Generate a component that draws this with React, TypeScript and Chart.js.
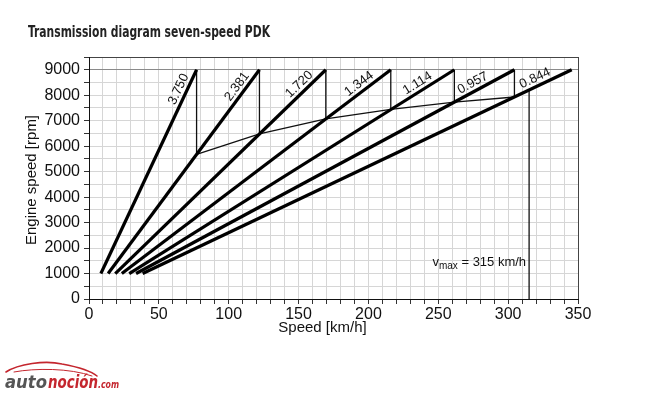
import React, { useEffect, useRef } from "react";
import { Chart, registerables } from "chart.js";

Chart.register(...registerables);

// ---- data ----
const gearRatios = ["3.750", "2.381", "1.720", "1.344", "1.114", "0.957", "0.844"];
const gearStartSpeeds = [8.5, 13.7, 18.8, 23.5, 28.8, 33.7, 38.4]; // km/h at 1000 rpm
const gearEndSpeeds = [77, 122, 169.5, 216, 261.5, 304.5, 345.5]; // km/h at 9000 rpm
const gearStartRpm = 1000;
const gearEndRpm = 9000;
const shiftSpeeds = [77, 122, 169.5, 216, 261.5, 304.5];
const shiftRpms = [5680, 6480, 7070, 7440, 7730, 7930];
const vmaxSpeed = 315;
const vmaxRpm = 8200;
const vmaxLabelRpm = 1300;
const gearLabelRpms = [8100, 8150, 8200, 8200, 8200, 8200, 8380];
const xTickLabels = [0, 50, 100, 150, 200, 250, 300, 350];
const yTickLabels = [0, 1000, 2000, 3000, 4000, 5000, 6000, 7000, 8000, 9000];

const FONT = "'Liberation Sans', Arial, Helvetica, sans-serif";

function fitText(ctx: CanvasRenderingContext2D, text: string, x: number, y: number, width: number, font: string, color: string) {
  ctx.save();
  ctx.font = font;
  const w = ctx.measureText(text).width;
  ctx.translate(x, y);
  ctx.scale(width / w, 1);
  ctx.fillStyle = color;
  ctx.textAlign = "left";
  ctx.textBaseline = "alphabetic";
  ctx.fillText(text, 0, 0);
  ctx.restore();
}

const decorPlugin = {
  id: "decor",
  afterDatasetsDraw(chart: any) {
    const ctx: CanvasRenderingContext2D = chart.ctx;
    const xs = chart.scales.x;
    const ys = chart.scales.y;
    // gear ratio labels along lines
    gearRatios.forEach((label, i) => {
      const x0 = xs.getPixelForValue(gearStartSpeeds[i]);
      const y0 = ys.getPixelForValue(gearStartRpm);
      const x1 = xs.getPixelForValue(gearEndSpeeds[i]);
      const y1 = ys.getPixelForValue(gearEndRpm);
      const ang = Math.atan2(y0 - y1, x1 - x0);
      const t = (gearLabelRpms[i] - gearStartRpm) / (gearEndRpm - gearStartRpm);
      const px = x0 + (x1 - x0) * t;
      const py = y0 + (y1 - y0) * t;
      const off = 8;
      const cx = px - Math.sin(ang) * off;
      const cy = py - Math.cos(ang) * off;
      ctx.save();
      ctx.translate(cx, cy);
      ctx.rotate(-ang);
      ctx.font = `13px ${FONT}`;
      ctx.fillStyle = "#111";
      ctx.textAlign = "center";
      ctx.textBaseline = "middle";
      ctx.fillText(label, 0, 0);
      ctx.restore();
    });
    // vmax label
    const vx = xs.getPixelForValue(vmaxSpeed) - 3;
    const vy = ys.getPixelForValue(vmaxLabelRpm);
    ctx.save();
    ctx.fillStyle = "#111";
    ctx.textBaseline = "alphabetic";
    ctx.textAlign = "left";
    const main = " = 315 km/h";
    ctx.font = `13px ${FONT}`;
    const wV = ctx.measureText("v").width;
    const wMain = ctx.measureText(main).width;
    ctx.font = `10px ${FONT}`;
    const wSub = ctx.measureText("max").width;
    let sx = vx - (wV + wSub + wMain);
    ctx.font = `13px ${FONT}`;
    ctx.fillText("v", sx, vy);
    sx += wV;
    ctx.font = `10px ${FONT}`;
    ctx.fillText("max", sx, vy + 3);
    sx += wSub;
    ctx.font = `13px ${FONT}`;
    ctx.fillText(main, sx, vy);
    ctx.restore();
  },
  afterDraw(chart: any) {
    const ctx: CanvasRenderingContext2D = chart.ctx;
    const area = chart.chartArea;
    // title
    fitText(ctx, "Transmission diagram seven-speed PDK", 28, 37, 242,
      `bold 15px 'Liberation Sans Narrow', 'DejaVu Sans Condensed', ${FONT}`, "#222");
    // axis titles
    ctx.save();
    ctx.fillStyle = "#111";
    ctx.font = `15px ${FONT}`;
    ctx.textAlign = "center";
    ctx.textBaseline = "middle";
    ctx.fillText("Speed [km/h]", (area.left + area.right) / 2 - 11, 328);
    ctx.translate(32, 180);
    ctx.rotate(-Math.PI / 2);
    ctx.fillText("Engine speed [rpm]", 0, 0);
    ctx.restore();
    // logo
    ctx.save();
    ctx.strokeStyle = "#c4262e";
    ctx.lineCap = "round";
    ctx.lineWidth = 1.6;
    ctx.beginPath();
    ctx.moveTo(6, 372);
    ctx.bezierCurveTo(18, 364, 45, 360, 62, 364);
    ctx.bezierCurveTo(78, 367, 90, 370, 97, 376);
    ctx.stroke();
    ctx.lineWidth = 1;
    ctx.beginPath();
    ctx.moveTo(14, 372);
    ctx.bezierCurveTo(35, 368, 70, 368, 92, 376);
    ctx.stroke();
    ctx.restore();
    fitText(ctx, "auto", 5, 388, 42, `bold italic 18px 'DejaVu Sans', ${FONT}`, "#555");
    fitText(ctx, "noción", 48, 388, 50, `bold italic 18px 'DejaVu Sans', ${FONT}`, "#c4262e");
    fitText(ctx, ".com", 98, 388, 21, `bold italic 11px 'DejaVu Sans', ${FONT}`, "#c4262e");
  },
};

export default function App() {
  const ref = useRef<HTMLCanvasElement | null>(null);
  useEffect(() => {
    if (!ref.current) return;
    const thin = { borderColor: "#111", borderWidth: 1.3, pointRadius: 0, fill: false };
    const datasets: any[] = [];
    gearRatios.forEach((r, i) => {
      datasets.push({
        label: r,
        data: [
          { x: gearStartSpeeds[i], y: gearStartRpm },
          { x: gearEndSpeeds[i], y: gearEndRpm },
        ],
        borderColor: "#000",
        borderWidth: 3.2,
        pointRadius: 0,
        fill: false,
      });
    });
    shiftSpeeds.forEach((s, i) => {
      datasets.push({
        ...thin,
        label: "drop" + i,
        data: [
          { x: s, y: gearEndRpm },
          { x: s, y: shiftRpms[i] },
        ],
      });
    });
    datasets.push({
      ...thin,
      label: "shift",
      data: shiftSpeeds.map((s, i) => ({ x: s, y: shiftRpms[i] })),
    });
    datasets.push({
      ...thin,
      label: "vmax",
      data: [
        { x: vmaxSpeed, y: 0 },
        { x: vmaxSpeed, y: vmaxRpm },
      ],
    });

    const light = "#d6d6d6";
    const chart = new Chart(ref.current, {
      type: "line",
      data: { datasets },
      options: {
        animation: false,
        responsive: false,
        maintainAspectRatio: false,
        layout: { padding: { top: 57, right: 82, left: 0, bottom: 0 } },
        plugins: { legend: { display: false }, tooltip: { enabled: false } },
        elements: { line: { tension: 0 } },
        scales: {
          x: {
            type: "linear",
            min: 0,
            max: 350,
            afterFit: (s: any) => { s.height = 96; },
            ticks: {
              stepSize: 10,
              autoSkip: false,
              maxRotation: 0,
              padding: 1,
              color: "#111",
              font: { family: FONT, size: 16 },
              callback: (v: any) => (xTickLabels.includes(Number(v)) ? String(v) : ""),
            },
            grid: {
              color: (c: any) => (c.tick && c.tick.value === 350 ? "#444" : light),
              lineWidth: 1,
              tickLength: 5,
              tickColor: "#333",
            },
            border: { color: "#111", width: 1 },
          },
          y: {
            min: 0,
            max: 9500,
            afterFit: (s: any) => { s.width = 89; },
            ticks: {
              stepSize: 500,
              autoSkip: false,
              padding: 4,
              color: "#111",
              font: { family: FONT, size: 16 },
              callback: (v: any) => (yTickLabels.includes(Number(v)) ? String(v) : ""),
            },
            grid: {
              color: (c: any) => {
                const v = c.tick ? c.tick.value : -1;
                if (v === 9500) return "#444";
                if (v === 9000) return "#8a8a8a";
                return light;
              },
              lineWidth: 1,
              tickLength: 5,
              tickColor: "#333",
            },
            border: { color: "#111", width: 1 },
          },
        },
      },
      plugins: [decorPlugin],
    } as any);
    return () => chart.destroy();
  }, []);
  return (
    <div style={{ position: "absolute", left: 0, top: 0, width: 660, height: 395, background: "#fff" }}>
      <canvas ref={ref} width={660} height={395} style={{ width: 660, height: 395, display: "block" }} />
    </div>
  );
}
